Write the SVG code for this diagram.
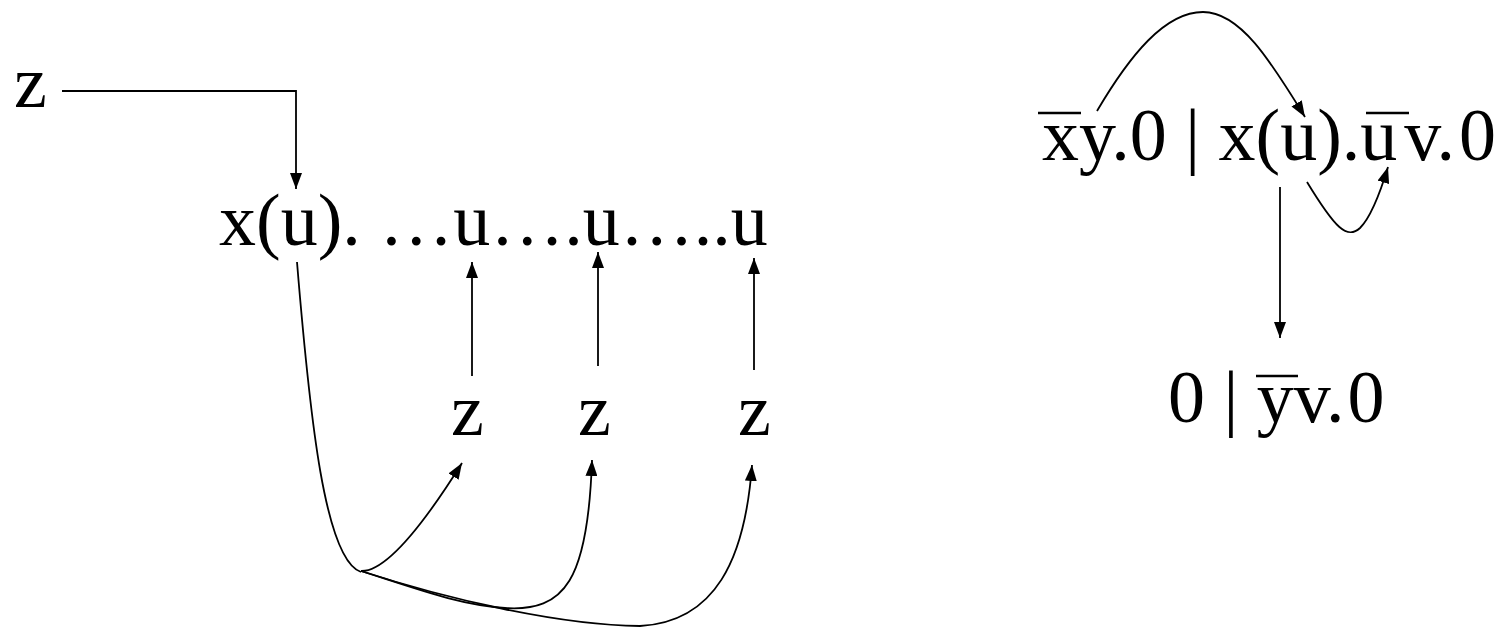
<svg xmlns="http://www.w3.org/2000/svg" width="1504" height="628" viewBox="0 0 1504 628">
<style>
.t{font-family:"Liberation Serif","Times New Roman",serif;font-size:74px;fill:#000}
.c{fill:none;stroke:#000;stroke-width:1.8}
.ol{stroke:#000;stroke-width:2.6}
</style>
<defs>
<marker id="ah" viewBox="0 0 16 12" refX="16" refY="6" markerWidth="16" markerHeight="12" markerUnits="userSpaceOnUse" orient="auto">
<path d="M0,0 L16,6 L0,12 Z" fill="#000"/>
</marker>
</defs>
<rect width="1504" height="628" fill="#fff"/>
<g id="n-z0"><text class="t" x="14" y="107">z</text></g>
<g id="n-xu"><text class="t" x="219" y="245">x(u). …u….u…..u</text></g>
<g id="n-z1"><text class="t" x="451" y="435">z</text></g>
<g id="n-z2"><text class="t" x="578" y="435">z</text></g>
<g id="n-z3"><text class="t" x="738" y="435">z</text></g>
<g id="n-top">
<text class="t" x="1042" y="160">xy.0 | x(u).u<tspan dx="7">v.</tspan><tspan dx="4">0</tspan></text>
<line class="ol" x1="1038" y1="113" x2="1081" y2="113"/>
<line class="ol" x1="1366" y1="113" x2="1409" y2="113"/>
</g>
<g id="n-bot">
<text class="t" x="1168" y="422">0 | yv.<tspan dx="3">0</tspan></text>
<line class="ol" x1="1256" y1="376" x2="1298" y2="376"/>
</g>
<g id="connectors">
<path class="c" d="M62,91 H296 V189" marker-end="url(#ah)"/>
<path class="c" d="M472,376 V262" marker-end="url(#ah)"/>
<path class="c" d="M598,366 V252" marker-end="url(#ah)"/>
<path class="c" d="M754,370 V258" marker-end="url(#ah)"/>
<path class="c" d="M297,262 C310,420 325,560 361,572"/>
<path class="c" d="M361,571 C385,572 420,530 462,463" marker-end="url(#ah)"/>
<path class="c" d="M361,571 C420,590 460,605 505,608 C565,612 588,580 592,460" marker-end="url(#ah)"/>
<path class="c" d="M361,571 C450,600 560,625 640,626 C715,622 745,560 752,465" marker-end="url(#ah)"/>
<path class="c" d="M1097,111 C1130,55 1165,12 1203,12 C1240,12 1270,60 1305,117" marker-end="url(#ah)"/>
<path class="c" d="M1307,182 C1335,228 1347,240 1360,228 C1370,218 1378,200 1388,167" marker-end="url(#ah)"/>
<path class="c" d="M1280,187 V338" marker-end="url(#ah)"/>
</g>
</svg>
